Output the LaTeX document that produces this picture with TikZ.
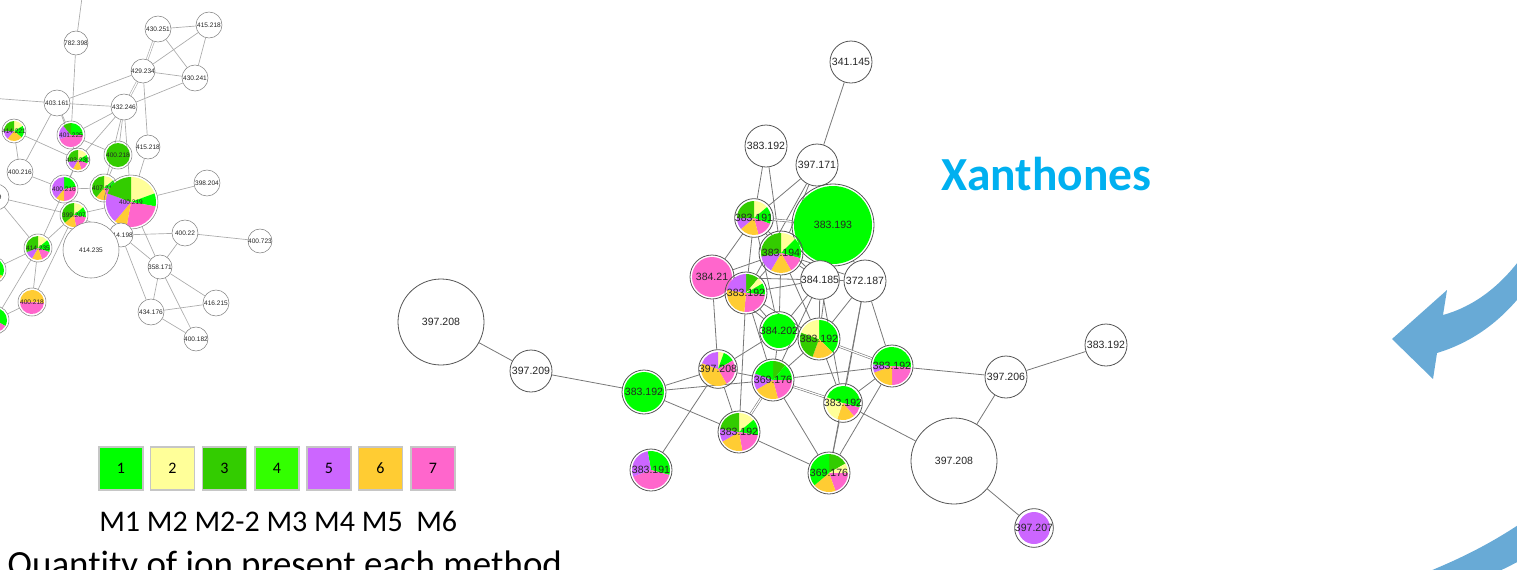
\documentclass[tikz,border=0pt]{standalone}
\usepackage{fontspec}
\setmainfont{Carlito}[Ligatures=NoCommon]
\newfontfamily\arialf{Liberation Sans}
\usetikzlibrary{backgrounds}
\definecolor{cA}{RGB}{0,255,0}
\definecolor{cB}{RGB}{255,255,153}
\definecolor{cC}{RGB}{51,204,0}
\definecolor{cD}{RGB}{51,255,0}
\definecolor{cE}{RGB}{204,102,255}
\definecolor{cF}{RGB}{255,204,51}
\definecolor{cG}{RGB}{255,102,204}
\definecolor{arrowblue}{RGB}{104,170,214}
\definecolor{xan}{RGB}{0,176,240}
\definecolor{edgegray}{RGB}{120,120,120}
\definecolor{ledge}{RGB}{170,170,170}
\definecolor{ring}{RGB}{85,85,85}
\newcommand\mypie[3]{\foreach \cc/\aa/\bb in {#3}{\fill[\cc] (#1) -- ++(\aa:#2*0.75pt) arc[start angle=\aa,end angle=\bb,radius=#2*0.75pt] -- cycle;}}
\newcommand\pnode[7]{\coordinate (#2c) at (#3,#4);\mypie{#2c}{#5}{#6}\node[#1,rad=#5+2] (#2) at (#2c) {#7};}
\tikzset{
 wn/.style={circle,draw=ring,fill=white,line width=0.6pt,inner sep=0pt,font=\arialf\fontsize{7.9}{8}\selectfont,text=black!85},
 pn/.style={circle,draw=ring,line width=0.6pt,inner sep=0pt,font=\arialf\fontsize{7.9}{8}\selectfont,text=black!85},
 rad/.style={minimum size={(#1)*1.5pt}},
 lwn/.style={wn,draw=gray,line width=0.4pt,font=\arialf\fontsize{4.9}{5}\selectfont},
 lpn/.style={pn,draw=gray,line width=0.4pt,font=\arialf\fontsize{4.9}{5}\selectfont},
 me/.style={draw=edgegray,line width=0.6pt},
 le/.style={draw=ledge,line width=0.5pt},
 dbl/.style={double=white,double distance=0.9pt,line width=0.45pt},
 keybox/.style={draw=gray!45,line width=1.2pt,minimum width=33pt,minimum height=32pt,inner sep=0pt,font=\fontsize{12}{12}\selectfont}
}
\begin{document}
\begin{tikzpicture}[x=0.75pt,y=-0.75pt]
\useasboundingbox (0,0) rectangle (1517,569);
\clip (0,0) rectangle (1517,569);
% ---------- main network ----------
\node[wn,rad=21] (A) at (851,62) {341.145};
\node[wn,rad=21] (B) at (766,146) {383.192};
\node[wn,rad=21] (C) at (817,165) {397.171};
\pnode{pn}{D}{833}{225}{39}{cA/90/-270}{383.193}
\pnode{pn}{E}{754}{218}{17}{cB/90/40,cA/40/-20,cG/-20/-75,cF/-75/-140,cE/-140/-180,cC/-180/-270}{383.191}
\pnode{pn}{F}{781}{253}{20}{cB/90/45,cA/45/-15,cG/-15/-60,cF/-60/-120,cE/-120/-170,cC/-170/-270}{383.194}
\pnode{pn}{G}{712}{277}{20}{cG/90/-270}{384.21}
\pnode{pn}{H}{746}{293}{19}{cC/90/50,cB/50/30,cA/30/-5,cG/-5/-95,cF/-95/-190,cE/-190/-270}{383.192}
\node[wn,rad=19] (I) at (820,280) {384.185};
\node[wn,rad=21] (J) at (865,281) {372.187};
\pnode{pn}{K}{779}{331}{17}{cA/90/-270}{384.202}
\pnode{pn}{L}{819}{339}{19}{cA/90/-45,cF/-45/-110,cC/-110/-200,cB/-200/-270}{383.192}
\pnode{pn}{M}{718}{369}{17}{cB/90/70,cA/70/30,cG/30/-60,cF/-60/-200,cE/-200/-270}{397.208}
\pnode{pn}{N}{773}{380}{19}{cC/90/50,cA/50/0,cG/0/-75,cF/-75/-150,cE/-150/-200,cA/-200/-270}{369.176}
\pnode{pn}{O}{644}{392}{20}{cA/90/-270}{383.192}
\pnode{pn}{P}{892}{366}{19}{cA/90/-5,cG/-5/-90,cF/-90/-160,cE/-160/-185,cA/-185/-270}{383.192}
\pnode{pn}{Q}{843}{403}{17}{cA/90/-15,cG/-15/-50,cF/-50/-110,cB/-110/-200,cA/-200/-270}{383.192}
\pnode{pn}{R}{739}{432}{19}{cB/90/40,cA/40/-10,cG/-10/-80,cF/-80/-150,cE/-150/-190,cC/-190/-270}{383.192}
\pnode{pn}{S}{651}{470}{19}{cA/100/-15,cG/-15/-160,cE/-160/-260}{383.191}
\pnode{pn}{T}{829}{473}{19}{cC/90/30,cB/30/0,cG/0/-70,cF/-70/-140,cA/-140/-270}{369.176}
\node[wn,rad=43] (U) at (441,322) {397.208};
\node[wn,rad=21] (V) at (531,371) {397.209};
\node[wn,rad=21] (W) at (1006,377) {397.206};
\node[wn,rad=21] (X) at (1106,345) {383.192};
\node[wn,rad=43] (Y) at (954,461) {397.208};
\pnode{pn}{Z}{1034}{528}{16}{cE/90/-270}{397.207}
\begin{pgfonlayer}{background}
\foreach \a/\b in {A/C,B/E,B/F,C/E,C/F,C/H,D/E,D/F,D/I,D/J,D/L,E/G,E/H,E/F,E/I,E/K,F/G,F/H,F/I,F/K,F/L,F/J,G/H,G/M,G/I,G/K,H/I,H/K,H/L,H/R,H/N,I/J,I/K,I/L,I/N,I/Q,J/L,J/P,J/Q,J/T,K/L,K/N,K/M,L/Q,L/N,M/N,M/R,M/O,M/S,N/O,N/T,N/P,O/V,O/R,P/W,P/Q,P/T,Q/T,Q/Y,R/T,U/V,W/X,W/Y,Y/Z}
  \draw[me] (\a) -- (\b);
\foreach \a/\b in {C/D,L/P,N/R,N/Q,E/D}
  \draw[me,dbl] (\a) -- (\b);
\end{pgfonlayer}
% ---------- left network ----------
\coordinate (ltop) at (83,-10);
\coordinate (lleft) at (-10,98);
\node[lwn,rad=12] (la) at (76,43) {782.398};
\node[lwn,rad=13] (lb) at (158,29) {430.251};
\node[lwn,rad=13] (lc) at (209,25) {415.218};
\node[lwn,rad=12] (ld) at (143,71) {429.234};
\node[lwn,rad=13] (le) at (195,78) {430.241};
\node[lwn,rad=13] (lf) at (57,103) {403.161};
\node[lwn,rad=13] (lg) at (124,107) {432.246};
\node[lwn,rad=11] (lh) at (148,147) {415.218};
\pnode{lpn}{li}{71}{135}{12}{cA/90/0,cG/0/-160,cE/-160/-230,cC/-230/-270}{401.225}
\pnode{lpn}{lj}{14}{131}{10}{cB/90/30,cA/30/-40,cF/-40/-130,cE/-130/-180,cC/-180/-270}{414.221}
\pnode{lpn}{lk}{118}{155}{12}{cC/90/-270}{400.218}
\pnode{lpn}{ll}{78}{160}{10}{cB/90/30,cA/30/-20,cG/-20/-70,cF/-70/-120,cE/-120/-170,cC/-170/-270}{403.230}
\node[lwn,rad=13] (lm) at (20,172) {400.216};
\node[lwn,rad=13] (ln) at (-4,197) {399};
\pnode{lpn}{lo}{64}{189}{12}{cA/90/10,cG/10/-90,cF/-90/-130,cE/-130/-270}{400.216}
\pnode{lpn}{lp}{104}{188}{12}{cB/90/40,cA/40/-10,cG/-10/-70,cF/-70/-130,cC/-130/-270}{407.218}
\pnode{lpn}{lq}{131}{202}{25}{cB/90/20,cA/20/-10,cG/-10/-100,cF/-100/-130,cE/-130/-200,cC/-200/-270}{400.219}
\node[lwn,rad=13] (lr) at (207,183) {398.204};
\pnode{lpn}{ls}{74}{215}{12}{cB/90/40,cA/40/-10,cG/-10/-80,cF/-80/-140,cC/-140/-270}{399.207}
\node[lwn,rad=12] (lt) at (121,235) {414.198};
\node[lwn,rad=28] (lu) at (91,250) {414.235};
\node[lwn,rad=13] (lv) at (185,233) {400.22};
\node[lwn,rad=12] (lw) at (260,241) {400.723};
\pnode{lpn}{lx}{38}{248}{12}{cB/90/40,cA/40/-20,cG/-20/-70,cF/-70/-120,cE/-120/-160,cC/-160/-270}{414.235}
\node[lwn,rad=12] (ly) at (160,267) {358.171};
\pnode{lpn}{lz}{32}{302}{12}{cF/90/-5,cG/-5/-180,cF/-180/-270}{400.218}
\node[lwn,rad=13] (laa) at (216,303) {416.215};
\node[lwn,rad=13] (lbb) at (151,312) {434.176};
\node[lwn,rad=12] (lcc) at (196,339) {400.182};
\pnode{lpn}{ldd}{-8}{270}{12}{cA/90/-30,cF/-30/-150,cG/-150/-270}{}
\pnode{lpn}{lee}{-5}{320}{12}{cA/90/-30,cG/-30/-270}{}
\begin{pgfonlayer}{background}
\foreach \a/\b in {ltop/la,la/li,lb/lc,lb/le,lc/le,lc/ld,ld/le,ld/lf,ld/lh,le/lg,lf/lg,lf/lleft,lf/li,lf/ll,lg/li,lg/lk,lg/ll,lg/lp,lg/lq,li/ll,li/lk,lj/lm,lj/ll,lm/lo,lm/lf,ln/lx,ln/ls,lo/ll,lo/lp,lo/ls,lp/lq,lp/lk,ls/lq,ls/lx,ls/lt,lq/lr,lq/lt,lq/ly,lq/lh,lt/lv,lt/ly,lt/lbb,lv/lw,lv/ly,ly/lbb,ly/laa,ly/lcc,lbb/laa,lbb/lcc,lx/lz,lx/ldd,lx/lee,lz/lee,lx/ll,lu/lt,lz/ls}
  \draw[le] (\a) -- (\b);
\foreach \a/\b in {lb/ld,ld/lg}
  \draw[le,dbl] (\a) -- (\b);
\end{pgfonlayer}
% ---------- legend ----------
\foreach \c/\n/\x in {cA/1/121,cB/2/172.5,cC/3/224.5,cD/4/277,cE/5/329,cF/6/380.5,cG/7/433}
  \node[keybox,fill=\c] (key\n) at (\x,468.5) {\n};
\node[anchor=base west,inner sep=0pt,font=\fontsize{22.5}{24}\selectfont] (mlab) at (99,531) {M1 M2 M2-2 M3 M4 M5\ \ M6};
\node[anchor=base west,inner sep=0pt,font=\fontsize{27.7}{30}\selectfont] (qlab) at (7,576) {Quantity of ion present each method};
\node[anchor=base west,inner sep=0pt,text=xan,font=\fontsize{35.6}{38}\selectfont\bfseries] (xlab) at (941,190) {Xanthones};
% ---------- blue arrows ----------
\fill[arrowblue] (1392,339) -- (1447,290) -- (1443,315)
  .. controls (1472,307) and (1503,287) .. (1530,245) -- (1530,283)
  .. controls (1503,322) and (1470,343) .. (1437,353) -- (1433,379) -- cycle;
\fill[arrowblue] (1420,575) .. controls (1455,561) and (1490,545) .. (1530,517)
  -- (1530,555) .. controls (1500,572) and (1480,580) .. (1450,590) -- cycle;
\end{tikzpicture}
\end{document}
